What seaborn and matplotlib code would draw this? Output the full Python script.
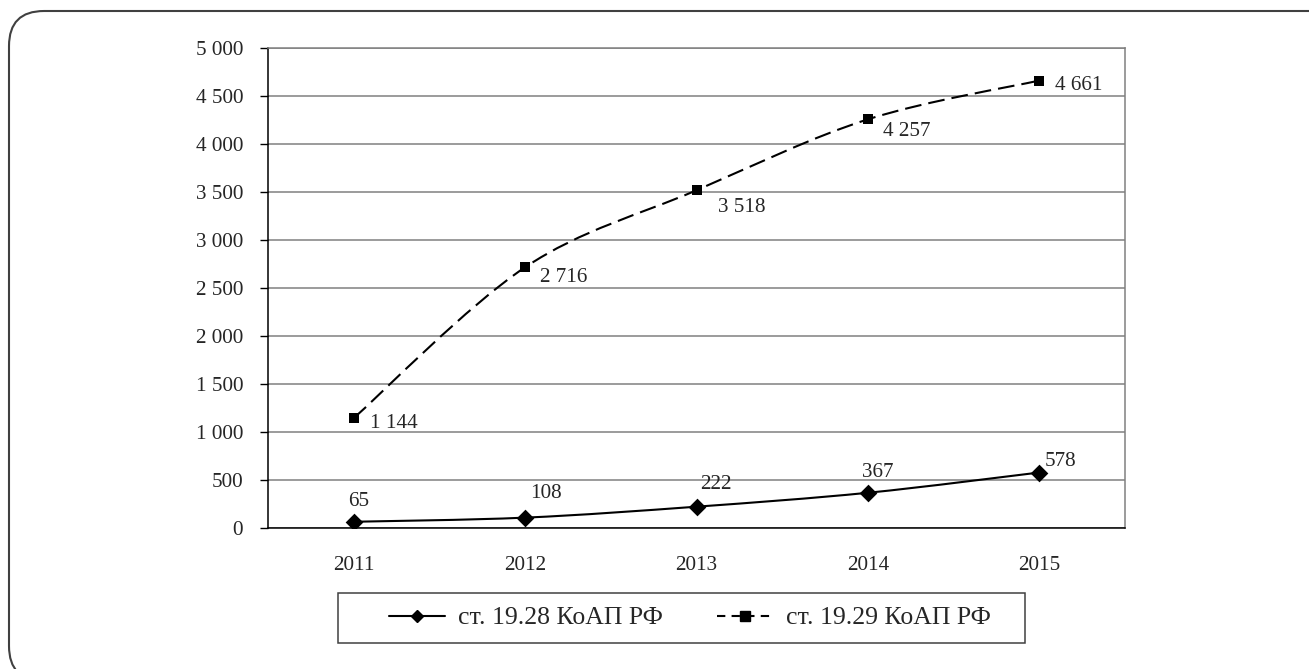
import numpy as np
import pandas as pd
import matplotlib
matplotlib.use("Agg")
import matplotlib.pyplot as plt
import seaborn as sns
from matplotlib.path import Path
from matplotlib.patches import PathPatch, FancyBboxPatch, Rectangle
from matplotlib.lines import Line2D
from matplotlib.transforms import IdentityTransform
from matplotlib.ticker import FuncFormatter, FixedLocator, MultipleLocator

# ---- data ----
years = ["2011", "2012", "2013", "2014", "2015"]
art_1928 = [65, 108, 222, 367, 578]
art_1929 = [1144, 2716, 3518, 4257, 4661]
series_names = ["ст. 19.28 КоАП РФ", "ст. 19.29 КоАП РФ"]

df = pd.DataFrame({
    "year": years * 2,
    "pos": list(range(len(years))) * 2,
    "value": art_1928 + art_1929,
    "series": [series_names[0]] * len(years) + [series_names[1]] * len(years),
})

sns.set_theme(style="white")
plt.rcParams["font.family"] = ["Liberation Serif", "DejaVu Serif"]
FS = 15.2
LEG_FS = 18.5

W, H = 1309, 669
fig = plt.figure(figsize=(W / 100, H / 100), dpi=100)
ax = fig.add_axes([268 / W, 1 - 528 / H, (1125 - 268) / W, (528 - 48) / H])


def fmt(v):
    return f"{v:,.0f}".replace(",", " ")


def smooth_path(xs, ys):
    """Bezier path through the points, Excel-style smoothing."""
    pts = np.column_stack([xs, ys]).astype(float)
    n = len(pts)
    verts = [pts[0]]
    codes = [Path.MOVETO]
    for i in range(n - 1):
        p0 = pts[i - 1] if i > 0 else pts[i]
        p1, p2 = pts[i], pts[i + 1]
        p3 = pts[i + 2] if i + 2 < n else pts[i + 1]
        c1 = p1 + (p2 - p0) / 6.0
        c2 = p2 - (p3 - p1) / 6.0
        verts += [c1, c2, p2]
        codes += [Path.CURVE4] * 3
    return Path(verts, codes)


styles = {
    series_names[0]: dict(marker="D", size=9.0, dashes=None),
    series_names[1]: dict(marker="s", size=7.4, dashes=(8, 3.4)),
}

for name in series_names:
    sub = df[df["series"] == name]
    st = styles[name]
    patch = PathPatch(smooth_path(sub["pos"], sub["value"]), facecolor="none",
                      edgecolor="black", lw=1.5, zorder=3)
    if st["dashes"]:
        patch.set_linestyle((0, st["dashes"]))
    ax.add_patch(patch)
    sns.scatterplot(data=sub, x="pos", y="value", marker=st["marker"],
                    s=st["size"] ** 2, color="black", edgecolor="black",
                    linewidth=0, ax=ax, zorder=4, legend=False)

# value labels (offsets in pixels: right, up)
PX = 0.72
off_1928 = [(5, 20), (21, 24), (19, 22), (10, 20), (21, 11)]
for x, v, (dx, dy) in zip(range(len(years)), art_1928, off_1928):
    ax.annotate(fmt(v), (x, v), xytext=(dx * PX, dy * PX), textcoords="offset points",
                ha="center", va="center", fontsize=FS, zorder=5)
off_1929 = [(16, -5), (15, -10), (21, -17), (15, -12), (16, -5)]
for x, v, (dx, dy) in zip(range(len(years)), art_1929, off_1929):
    ax.annotate(fmt(v), (x, v), xytext=(dx * PX, dy * PX), textcoords="offset points",
                ha="left", va="center", fontsize=FS, zorder=5)

# axes
ax.set_xlim(-0.5, len(years) - 0.5)
ax.set_ylim(0, 5000)
ax.yaxis.set_major_locator(MultipleLocator(500))
ax.yaxis.set_major_formatter(FuncFormatter(lambda v, p: fmt(v)))
ax.set_xticks(range(len(years)))
ax.set_xticklabels(years)
ax.xaxis.set_minor_locator(FixedLocator(np.arange(-0.5, len(years), 1.0)))
ax.tick_params(axis="x", which="major", length=0, pad=20, labelsize=FS)
ax.tick_params(axis="x", which="minor", length=6, width=1, color="black", direction="out")
ax.tick_params(axis="y", which="major", length=6, width=1, color="black", direction="out",
               pad=12, labelsize=FS, left=True)
ax.set_xlabel("")
ax.set_ylabel("")
ax.grid(axis="y", color="#808080", lw=1.1)
ax.set_axisbelow(True)
for s in ["left", "bottom"]:
    ax.spines[s].set_color("black")
    ax.spines[s].set_linewidth(1.1)
for s in ["right", "top"]:
    ax.spines[s].set_color("#808080")
    ax.spines[s].set_linewidth(1.1)

# legend: box drawn separately, entries centred inside it
fig.add_artist(Rectangle((338, H - 643), 1025 - 338, 50, transform=IdentityTransform(),
                         facecolor="white", edgecolor="#404040", lw=1.1, zorder=1))
handles = [
    Line2D([], [], color="black", lw=1.5, marker="D", ms=6.5),
    Line2D([], [], color="black", lw=1.5, marker="s", ms=7, dashes=(4, 3)),
]
leg = fig.legend(handles, series_names, loc="center", ncol=2,
                 bbox_to_anchor=((375 + 1005) / 2 / W, 1 - 618 / H),
                 fontsize=LEG_FS, frameon=False, handlelength=2.2,
                 handletextpad=0.5, columnspacing=2.1, borderpad=0.0,
                 borderaxespad=0)
leg.set_zorder(2)

# rounded outer frame, running off the right and bottom edges
fig.add_artist(FancyBboxPatch((9, -12), 1345, 670,
                              boxstyle="round,pad=0,rounding_size=35",
                              transform=IdentityTransform(), facecolor="none",
                              edgecolor="#404040", lw=1.5))

fig.savefig("out.png", dpi=100)
